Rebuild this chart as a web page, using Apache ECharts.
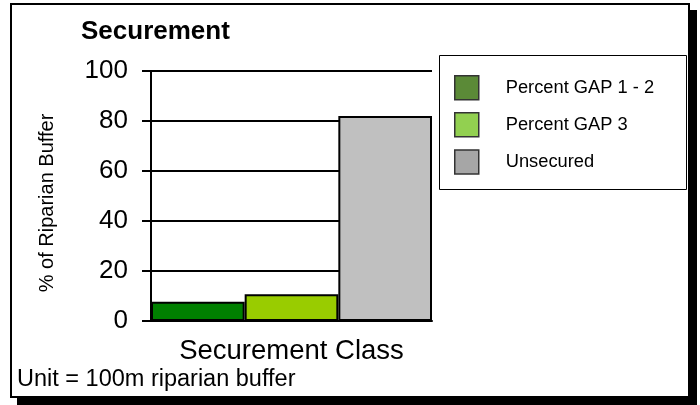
<!DOCTYPE html>
<html>
<head>
<meta charset="utf-8">
<script src="https://cdn.jsdelivr.net/npm/echarts@6/dist/echarts.min.js"></script>
<style>html,body{margin:0;padding:0;background:#fff;}#c{width:700px;height:405px;}</style>
</head>
<body>
<div id="c"></div>
<script>
var categories = ['Securement Class'];
var seriesNames = ['Percent GAP 1 - 2', 'Percent GAP 3', 'Unsecured'];
var gap12 = [7.7];
var gap3 = [10.7];
var unsecured = [82];
var yTicks = [0, 20, 40, 60, 80, 100];

var FONT = 'Liberation Sans, Arial, sans-serif';
var barColors = ['#008000', '#99cc00', '#c0c0c0'];
var legendColors = ['#5b8a37', '#92d050', '#a6a6a6'];
var values = [gap12, gap3, unsecured];

var chart = echarts.init(document.getElementById('c'), null, {renderer: 'canvas'});
chart.setOption({
  backgroundColor: '#fff',
  animation: false,
  graphic: [
    {type: 'rect', z: -10, shape: {x: 17, y: 10, width: 680, height: 395}, style: {fill: '#000'}},
    {type: 'rect', z: -9, shape: {x: 11, y: 4, width: 678, height: 393}, style: {fill: '#fff', stroke: '#000', lineWidth: 2}},
    {type: 'rect', z: -8, shape: {x: 439.5, y: 55.5, width: 247, height: 134}, style: {fill: '#fff', stroke: '#000', lineWidth: 1}}
  ],
  title: [
    {text: 'Securement', left: 81, top: 19, padding: 0,
     textStyle: {fontFamily: FONT, fontSize: 26, fontWeight: 'bold', color: '#000'}},
    {text: 'Unit = 100m riparian buffer', left: 17, top: 368, padding: 0,
     textStyle: {fontFamily: FONT, fontSize: 23.5, fontWeight: 'normal', color: '#000'}}
  ],
  legend: {
    orient: 'vertical', left: 454, top: 75, padding: 0,
    itemWidth: 24, itemHeight: 24, itemGap: 11.6,
    selectedMode: false,
    textStyle: {fontFamily: FONT, fontSize: 18.3, color: '#000', padding: [0, 0, 0, 22]},
    data: seriesNames.map(function (n, i) {
      return {name: n, icon: 'rect', itemStyle: {color: legendColors[i], borderColor: '#333', borderWidth: 1.5}};
    })
  },
  grid: {left: 151, right: 268, top: 71, bottom: 84, containLabel: false},
  xAxis: {
    type: 'category', data: categories,
    name: 'Securement Class', nameLocation: 'middle', nameGap: 16,
    nameTextStyle: {fontFamily: FONT, fontSize: 27.5, color: '#000'},
    axisLine: {show: true, lineStyle: {color: '#000', width: 2}},
    axisTick: {show: false}, axisLabel: {show: false}
  },
  yAxis: {
    type: 'value', min: yTicks[0], max: yTicks[yTicks.length - 1], interval: 20,
    name: '% of Riparian Buffer', nameLocation: 'middle', nameRotate: 90, nameGap: 94,
    nameTextStyle: {fontFamily: FONT, fontSize: 20, color: '#000', padding: [0, 14, 0, 0]},
    axisLine: {show: true, lineStyle: {color: '#000', width: 2}},
    axisTick: {show: true, inside: false, length: 9, lineStyle: {color: '#000', width: 2}},
    axisLabel: {fontFamily: FONT, fontSize: 26, color: '#000', margin: 23},
    splitLine: {show: true, lineStyle: {color: '#000', width: 2}}
  },
  series: seriesNames.map(function (n, i) {
    return {
      name: n, type: 'bar', data: values[i],
      barGap: '0%', barCategoryGap: '0%',
      itemStyle: {color: barColors[i], borderColor: '#000', borderWidth: 2}
    };
  })
});
</script>
</body>
</html>
